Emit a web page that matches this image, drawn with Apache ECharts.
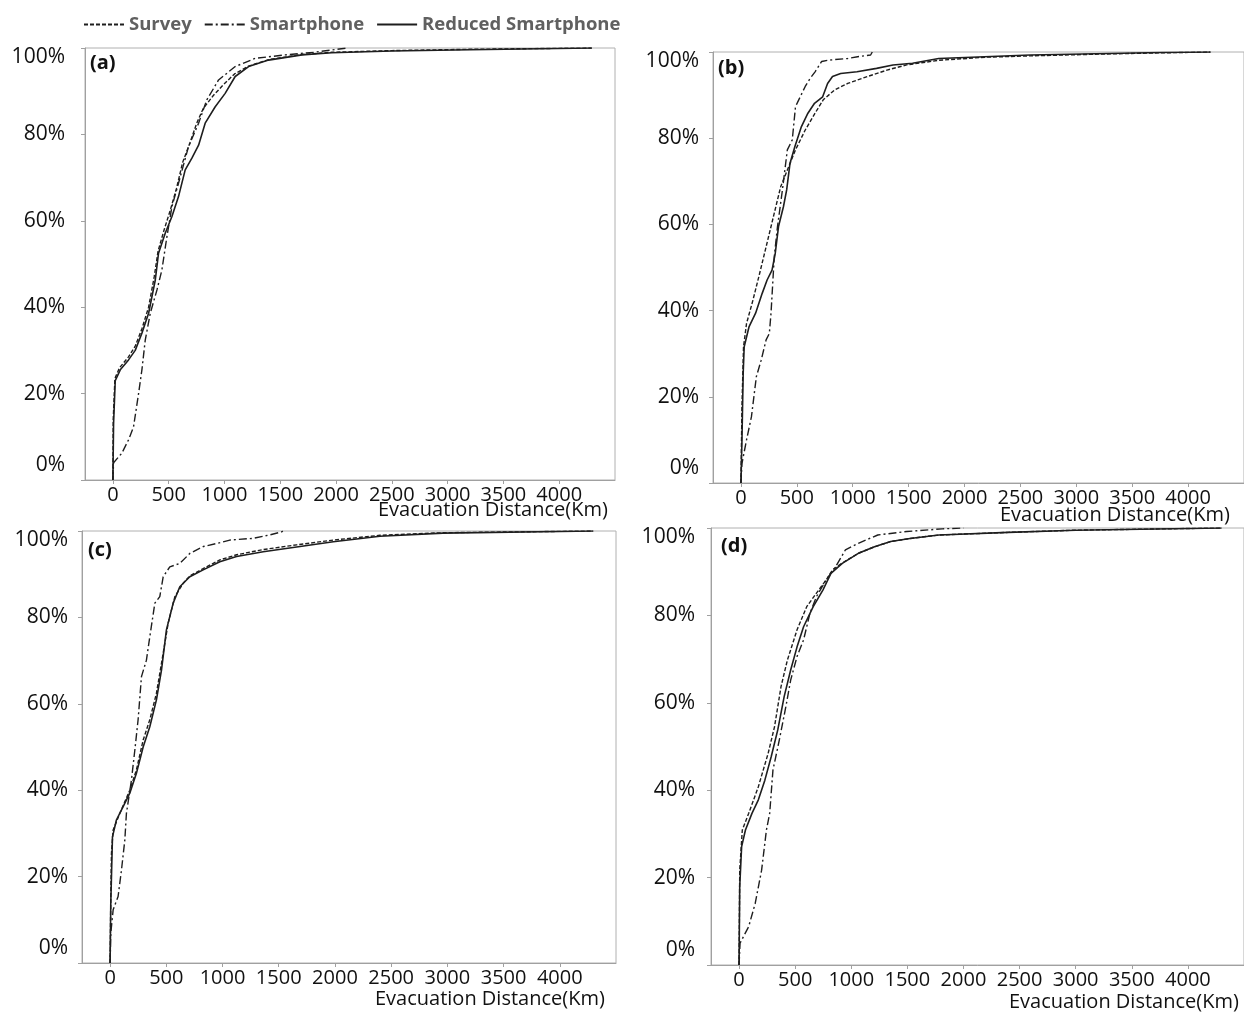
<!DOCTYPE html>
<html><head><meta charset="utf-8">
<script src="https://cdn.jsdelivr.net/npm/echarts@6/dist/echarts.min.js"></script>
<style>html,body{margin:0;padding:0;background:#fff}#c{width:1244px;height:1013px}</style>
</head><body><div id="c"></div>
<script>
// ---- Data: [distance km, cumulative share] ----
const seriesNames = ['Survey', 'Smartphone', 'Reduced Smartphone'];
const panelLabels = ['(a)', '(b)', '(c)', '(d)'];
const xTickValues = [0, 500, 1000, 1500, 2000, 2500, 3000, 3500, 4000];
const yTickValues = [0, 0.2, 0.4, 0.6, 0.8, 1.0];

// Panel (a)
const surveyA = [[0,0],[3,0.14],[18,0.235],[60,0.26],[140,0.285],[200,0.31],[260,0.35],[320,0.40],[370,0.47],[405,0.53],[460,0.58],[515,0.625],[570,0.675],[625,0.735],[690,0.78],[750,0.825],[810,0.86],[900,0.89],[990,0.915],[1090,0.94],[1216,0.958],[1395,0.973],[1694,0.985],[1962,0.99],[2500,0.994],[3200,0.997],[4292,1.0]];
const smartA = [[0,0],[6,0.04],[80,0.062],[140,0.093],[185,0.123],[230,0.2],[260,0.255],[290,0.324],[335,0.386],[395,0.44],[439,0.486],[484,0.563],[529,0.633],[588,0.687],[678,0.772],[768,0.826],[842,0.88],[947,0.926],[1096,0.957],[1275,0.976],[1544,0.984],[1800,0.99],[2097,1.0]];
const reducedA = [[0,0],[6,0.13],[21,0.23],[66,0.255],[140,0.278],[200,0.30],[260,0.34],[320,0.386],[380,0.463],[409,0.525],[469,0.571],[529,0.61],[588,0.656],[648,0.718],[708,0.745],[768,0.775],[827,0.826],[917,0.864],[1006,0.895],[1096,0.934],[1216,0.957],[1395,0.972],[1694,0.984],[1962,0.989],[2500,0.993],[3200,0.996],[4292,1.0]];

// Panel (b)
const surveyB = [[0,0],[9,0.177],[23,0.316],[50,0.37],[108,0.425],[167,0.486],[225,0.548],[298,0.626],[356,0.688],[415,0.726],[488,0.773],[575,0.819],[663,0.858],[736,0.889],[838,0.912],[955,0.927],[1131,0.943],[1306,0.958],[1482,0.97],[1775,0.981],[2200,0.988],[2588,0.991],[3200,0.995],[3763,0.998],[4200,1.0]];
const smartB = [[0,0],[9,0.045],[50,0.1],[94,0.154],[138,0.247],[181,0.285],[225,0.332],[254,0.347],[269,0.394],[298,0.525],[327,0.595],[371,0.68],[415,0.773],[459,0.796],[488,0.873],[517,0.889],[575,0.92],[619,0.939],[663,0.954],[722,0.978],[780,0.981],[955,0.985],[1043,0.989],[1160,0.993],[1175,1.0]];
const reducedB = [[0,0],[9,0.10],[20,0.254],[29,0.316],[73,0.363],[131,0.394],[190,0.44],[234,0.471],[278,0.494],[307,0.533],[336,0.595],[380,0.641],[409,0.68],[439,0.742],[482,0.78],[541,0.827],[599,0.858],[658,0.881],[731,0.896],[775,0.927],[819,0.943],[892,0.95],[1038,0.954],[1213,0.962],[1360,0.97],[1535,0.974],[1769,0.985],[2588,0.993],[3763,0.999],[4200,1.0]];

// Panel (c)
const surveyC = [[0,0],[6,0.15],[12,0.254],[27,0.308],[86,0.346],[175,0.40],[234,0.447],[294,0.516],[353,0.563],[412,0.624],[472,0.717],[516,0.786],[576,0.848],[650,0.879],[709,0.896],[828,0.913],[976,0.933],[1125,0.945],[1362,0.957],[1659,0.968],[1985,0.979],[2400,0.99],[2962,0.996],[4297,1.0]];
const smartC = [[0,0],[6,0.069],[27,0.123],[71,0.154],[101,0.215],[131,0.285],[145,0.346],[190,0.424],[220,0.493],[249,0.563],[279,0.663],[323,0.701],[353,0.755],[398,0.833],[442,0.848],[472,0.894],[531,0.917],[620,0.925],[709,0.948],[828,0.964],[947,0.971],[1065,0.979],[1273,0.983],[1421,0.991],[1525,0.998],[1540,1.0]];
const reducedC = [[0,0],[6,0.138],[21,0.292],[56,0.331],[116,0.362],[175,0.393],[234,0.439],[294,0.50],[353,0.547],[412,0.609],[457,0.678],[501,0.771],[561,0.833],[620,0.871],[709,0.894],[828,0.91],[976,0.929],[1125,0.941],[1362,0.952],[1659,0.963],[1985,0.975],[2400,0.988],[2962,0.995],[4297,1.0]];

// Panel (d)
const surveyD = [[0,0],[6,0.217],[29,0.309],[86,0.347],[172,0.408],[259,0.484],[316,0.545],[374,0.637],[431,0.698],[517,0.767],[603,0.82],[690,0.851],[776,0.881],[833,0.904],[920,0.92],[1063,0.942],[1207,0.957],[1351,0.969],[1523,0.976],[1782,0.984],[2400,0.99],[3000,0.995],[4300,1.0]];
const smartD = [[0,0],[9,0.05],[86,0.088],[144,0.141],[201,0.217],[244,0.309],[273,0.347],[302,0.446],[359,0.515],[417,0.591],[460,0.652],[517,0.706],[575,0.744],[632,0.805],[690,0.843],[776,0.881],[862,0.912],[948,0.95],[1063,0.965],[1236,0.984],[1494,0.992],[1810,0.998],[2000,1.0]];
const reducedD = [[0,0],[6,0.18],[23,0.271],[57,0.309],[115,0.347],[172,0.378],[230,0.423],[287,0.477],[345,0.538],[402,0.614],[460,0.675],[517,0.728],[575,0.774],[661,0.82],[747,0.858],[819,0.896],[920,0.919],[1063,0.942],[1207,0.957],[1351,0.969],[1523,0.976],[1782,0.984],[2400,0.99],[3000,0.995],[4300,1.0]];

const panels = [
  {survey: surveyA, smart: smartA, reduced: reducedA},
  {survey: surveyB, smart: smartB, reduced: reducedB},
  {survey: surveyC, smart: smartC, reduced: reducedC},
  {survey: surveyD, smart: smartD, reduced: reducedD}
];

// ---- Layout ----
const grids = [
  {left: 85, top: 48, width: 530, height: 432},
  {left: 713, top: 52, width: 541, height: 431},
  {left: 82, top: 531, width: 534, height: 432},
  {left: 711, top: 528, width: 552, height: 437}
];
const labelPos = [[90, 53], [718, 58], [88, 540], [721, 536]];
const axisNamePos = [[378, 500], [1000, 505], [375, 989], [1009, 992]];
const yLabelMargin = [20, 14, 14, 16];

const FONT = '"Open Sans", "Liberation Sans", sans-serif';
const lineColor = '#1e1e1e';
const dashStyles = {
  'Survey': [4, 2],
  'Smartphone': [8, 3, 2, 3],
  'Reduced Smartphone': 'solid'
};

const option = {
  backgroundColor: '#fff',
  animation: false,
  legend: {
    left: 78, top: 10,
    itemWidth: 40, itemHeight: 12, itemGap: 12,
    data: seriesNames,
    itemStyle: {opacity: 0},
    textStyle: {fontFamily: FONT, fontSize: 18.5, fontWeight: 'bold', color: '#606060'}
  },
  title: [],
  grid: grids.map(g => Object.assign({show: true, borderColor: '#b0b0b0', borderWidth: 1, containLabel: false}, g)),
  xAxis: grids.map((g, i) => ({
    type: 'value', gridIndex: i, min: -250, max: 4500,
    axisLine: {show: true, onZero: false, lineStyle: {color: '#a0a0a0'}},
    axisTick: {show: true, length: 4, customValues: xTickValues, lineStyle: {color: '#a0a0a0'}},
    axisLabel: {customValues: xTickValues, color: '#111', fontFamily: FONT, fontSize: 20, margin: 5,
      formatter: v => String(v)},
    splitLine: {show: false}
  })),
  yAxis: grids.map((g, i) => ({
    type: 'value', gridIndex: i, min: 0, max: 1, interval: 0.2,
    axisLine: {show: true, onZero: false, lineStyle: {color: '#a0a0a0'}},
    axisTick: {show: true, length: 4, lineStyle: {color: '#a0a0a0'}},
    axisLabel: {
      margin: yLabelMargin[i], color: '#111', fontFamily: FONT, fontSize: 21,
      formatter: v => {
        const t = Math.round(v * 100) + '%';
        if (v === 0) return '{lo|' + t + '}';
        if (v >= 1) return '{hi|' + t + '}';
        return t;
      },
      rich: {
        lo: {fontFamily: FONT, fontSize: 21, color: '#111', padding: [0, 0, 30, 0]},
        hi: {fontFamily: FONT, fontSize: 21, color: '#111', padding: [18, 0, 0, 0]}
      }
    },
    splitLine: {show: false}
  })),
  series: []
};

panelLabels.forEach((lab, i) => {
  option.title.push({
    text: lab, left: labelPos[i][0], top: labelPos[i][1], padding: 0,
    textStyle: {fontFamily: FONT, fontSize: 20, fontWeight: 'bold', color: '#111'}
  });
  option.title.push({
    text: 'Evacuation Distance(Km)', left: axisNamePos[i][0], top: axisNamePos[i][1], padding: 0,
    textStyle: {fontFamily: FONT, fontSize: 20, fontWeight: 'normal', color: '#111'}
  });
  const p = panels[i];
  const keys = {'Survey': p.survey, 'Smartphone': p.smart, 'Reduced Smartphone': p.reduced};
  seriesNames.forEach(name => {
    option.series.push({
      name: name, type: 'line', xAxisIndex: i, yAxisIndex: i,
      data: keys[name], showSymbol: false, symbol: 'none', smooth: false,
      lineStyle: {color: lineColor, width: name === 'Reduced Smartphone' ? 1.6 : 1.4, type: dashStyles[name]},
      itemStyle: {color: lineColor},
      z: name === 'Reduced Smartphone' ? 3 : 2
    });
  });
});

const chart = echarts.init(document.getElementById('c'), null, {renderer: 'canvas'});
chart.setOption(option);
</script>
</body></html>
